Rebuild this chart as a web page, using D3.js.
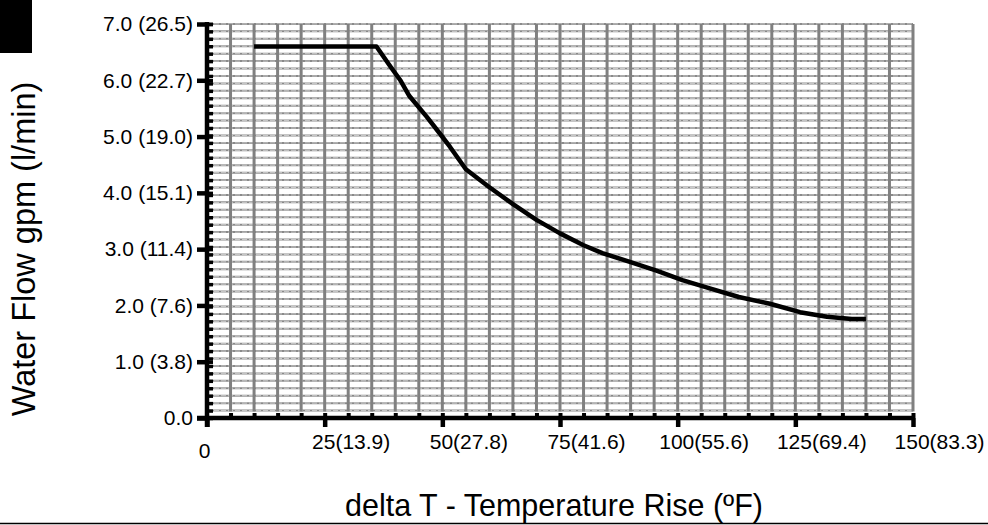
<!DOCTYPE html>
<html>
<head>
<meta charset="utf-8">
<script src="https://cdn.jsdelivr.net/npm/d3@7"></script>
<style>
  body { margin: 0; background: #fff; }
  svg { display: block; font-family: "Liberation Sans", Arial, sans-serif; }
</style>
</head>
<body>
<svg id="chart" width="988" height="525"></svg>
<script>
// curve: delta T (F) vs water flow (gpm)
const deltaT = [10, 36, 39, 41, 43, 46.7, 49.5, 51.6, 55, 60, 65, 70, 75, 80, 84, 90, 95.5, 101, 107, 113, 119.6, 126, 131.7, 137, 140];
const flowGpm = [6.6, 6.6, 6.24, 6.01, 5.72, 5.35, 5.05, 4.82, 4.42, 4.1, 3.8, 3.52, 3.28, 3.07, 2.93, 2.77, 2.62, 2.45, 2.30, 2.15, 2.03, 1.88, 1.80, 1.76, 1.76];

const yMajor = [0, 1, 2, 3, 4, 5, 6, 7];
const yLabels = ["0.0", "1.0 (3.8)", "2.0 (7.6)", "3.0 (11.4)", "4.0 (15.1)", "5.0 (19.0)", "6.0 (22.7)", "7.0 (26.5)"];
const xMajor = [0, 25, 50, 75, 100, 125, 150];
const xLabels = ["0", "25(13.9)", "50(27.8)", "75(41.6)", "100(55.6)", "125(69.4)", "150(83.3)"];
const lpmStep = 0.5;       // minor ticks / grid every 0.5 l/min
const lpmPerGpm = 3.785;
const xStep = 5;           // minor ticks / grid every 5 F

const xTitle = "delta T - Temperature Rise (ºF)";
const yTitle = "Water Flow gpm (l/min)";

var svg = d3.select("#chart");
var x = d3.scaleLinear().domain([0, 150]).range([207, 913]);
var y = d3.scaleLinear().domain([0, 7]).range([418, 24]);

var xMinor = d3.range(xStep, 150 + 0.01, xStep);
var yMinor = d3.range(lpmStep, 7 * lpmPerGpm + 0.01, lpmStep).map(v => v / lpmPerGpm);

// black block top left
svg.append("rect").attr("x", 0).attr("y", 0).attr("width", 32).attr("height", 53).attr("fill", "#000");

// grid
var grid = svg.append("g");
grid.selectAll(".hg").data(yMinor).join("line")
    .attr("x1", x(0)).attr("x2", x(150))
    .attr("y1", d => y(d)).attr("y2", d => y(d))
    .attr("stroke", "#8a8a8a").attr("stroke-width", 2);
grid.selectAll(".hd").data(yMinor).join("line")
    .attr("x1", x(0)).attr("x2", x(150))
    .attr("y1", d => y(d)).attr("y2", d => y(d))
    .attr("stroke", "#fff").attr("stroke-opacity", 0.7).attr("stroke-width", 0.8)
    .attr("stroke-dasharray", "5,2");
grid.selectAll(".vg").data(xMinor).join("line")
    .attr("x1", d => x(d)).attr("x2", d => x(d))
    .attr("y1", y(7)).attr("y2", y(yMinor[0]) + 1)
    .attr("stroke", "#808080").attr("stroke-width", 3);

// y axis
var yAx = svg.append("g").attr("transform", "translate(207,0)")
    .call(d3.axisLeft(y).tickValues(yMajor).tickSize(10).tickSizeOuter(0)
        .tickPadding(4).tickFormat((d, i) => yLabels[i]));
var yIn = svg.append("g").attr("transform", "translate(207,0)")
    .call(d3.axisRight(y).tickValues(yMinor.concat(yMajor)).tickSize(6).tickSizeOuter(0).tickFormat(""));
yIn.select(".domain").remove();
yIn.selectAll("line").attr("stroke-width", 3.5);

// x axis
var xAx = svg.append("g").attr("transform", "translate(0,418)")
    .call(d3.axisBottom(x).tickValues(xMajor).tickSize(9).tickSizeOuter(0)
        .tickFormat((d, i) => xLabels[i]));
var xIn = svg.append("g").attr("transform", "translate(0,418)")
    .call(d3.axisTop(x).tickValues(xMinor).tickSize(5).tickSizeOuter(0).tickFormat(""));
xIn.select(".domain").remove();
xIn.selectAll("line").attr("stroke-width", 4);

[yAx, xAx].forEach(function (g) {
    g.select(".domain").attr("stroke-width", 4.5).attr("d", null);
    g.selectAll("line").attr("stroke-width", 4.5);
    g.selectAll("text").attr("font-size", 21).attr("fill", "#000")
        .attr("font-family", "'Liberation Sans', Arial, sans-serif");
});
// axis lines drawn explicitly so they overshoot like the original
svg.append("line").attr("x1", 207).attr("x2", 207).attr("y1", y(7) - 2).attr("y2", 427)
    .attr("stroke", "#000").attr("stroke-width", 4.5);
svg.append("line").attr("x1", 197).attr("x2", x(150) + 2).attr("y1", 418).attr("y2", 418)
    .attr("stroke", "#000").attr("stroke-width", 4.5);

xAx.selectAll(".tick text")
    .attr("text-anchor", "middle")
    .attr("x", (d, i) => i == 0 ? -3 : 26)
    .attr("y", (d, i) => i == 0 ? 40 : 31)
    .attr("dy", 0);

// curve
var line = d3.line().x((d, i) => x(deltaT[i])).y(d => y(d));
svg.append("path").datum(flowGpm)
    .attr("d", line)
    .attr("fill", "none").attr("stroke", "#000").attr("stroke-width", 4.5)
    .attr("stroke-linejoin", "round");

// titles
svg.append("text").attr("x", 554).attr("y", 516).attr("text-anchor", "middle")
    .attr("font-size", 30.5).text(xTitle);
svg.append("text").attr("transform", "translate(35,249) rotate(-90)")
    .attr("text-anchor", "middle").attr("font-size", 32.5).text(yTitle);

// rule at the bottom
svg.append("line").attr("x1", 0).attr("x2", 988).attr("y1", 523.5).attr("y2", 523.5)
    .attr("stroke", "#000").attr("stroke-width", 1.5);
</script>
</body>
</html>
